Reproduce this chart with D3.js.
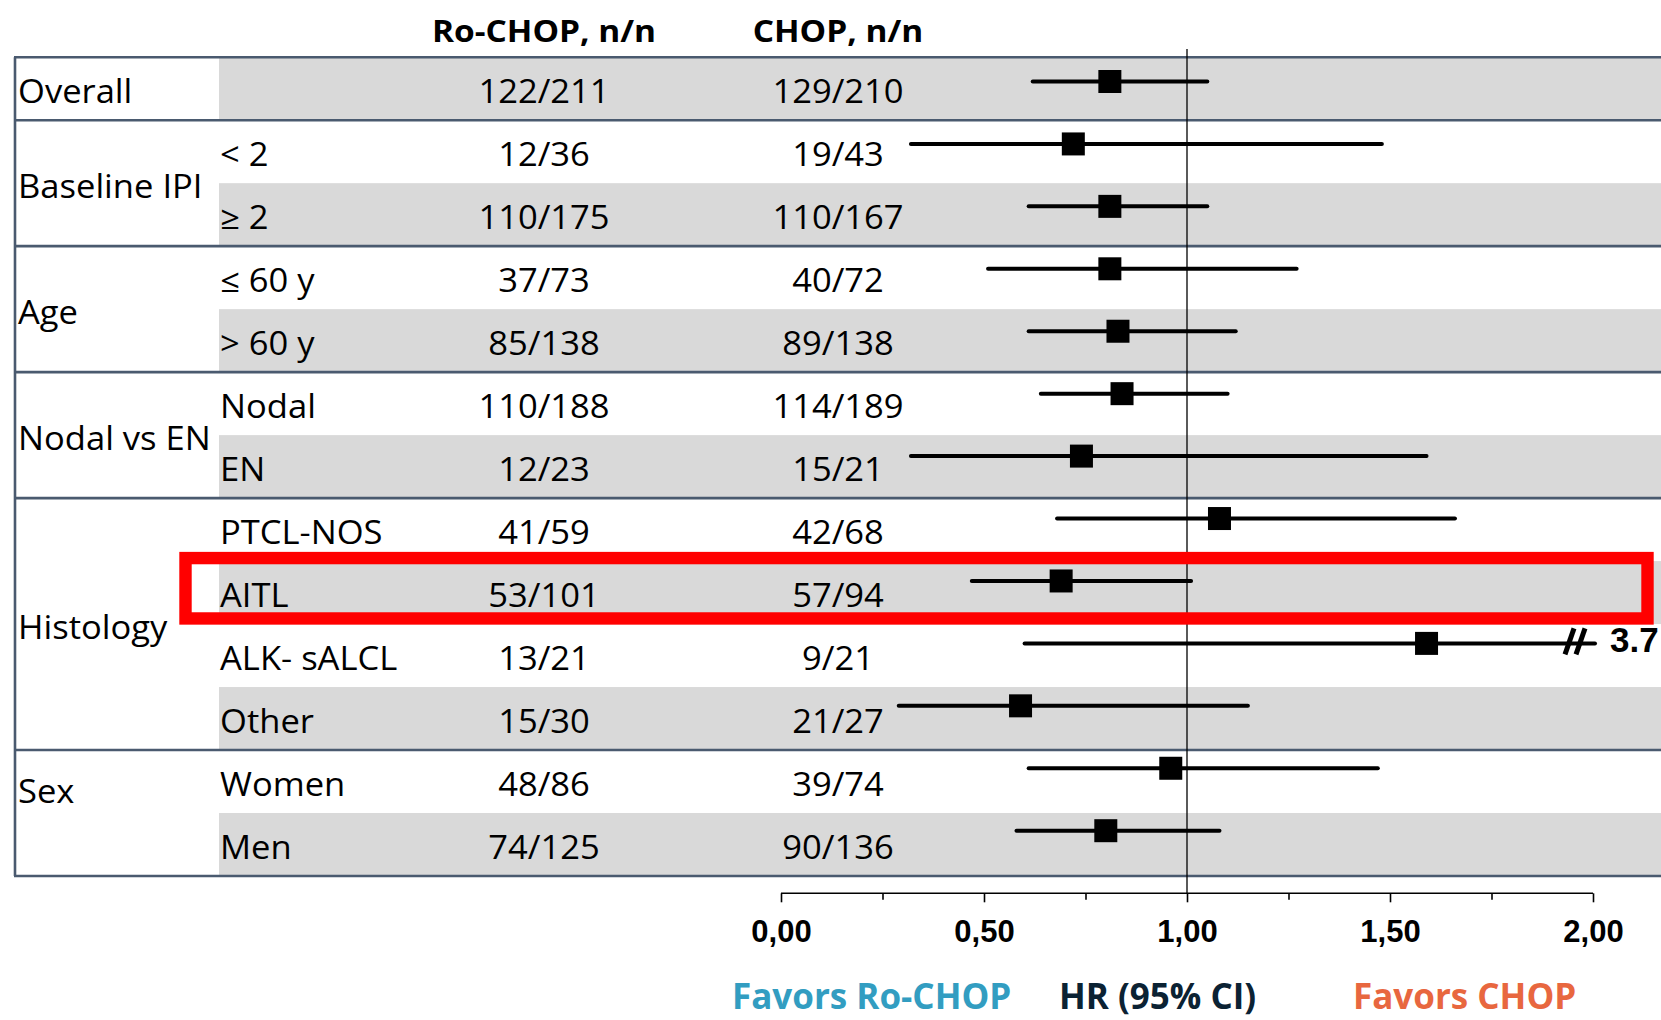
<!DOCTYPE html>
<html>
<head>
<meta charset="utf-8">
<script src="https://cdn.jsdelivr.net/npm/d3@7"></script>
<style>
  html, body { margin: 0; padding: 0; background: #fff; }
  svg { display: block; }
</style>
</head>
<body>
<svg id="chart" width="1661" height="1020"></svg>
<script>
// Subgroups, arm counts (events/patients) and hazard ratios with 95% CI
const groupOfRow = ["Overall", "Baseline IPI", "Baseline IPI", "Age", "Age",
  "Nodal vs EN", "Nodal vs EN", "Histology", "Histology", "Histology", "Histology", "Sex", "Sex"];
const rowLabels = ["", "< 2", "≥ 2", "≤ 60 y", "> 60 y", "Nodal", "EN",
  "PTCL-NOS", "AITL", "ALK- sALCL", "Other", "Women", "Men"];
const roChopCounts = ["122/211", "12/36", "110/175", "37/73", "85/138", "110/188", "12/23",
  "41/59", "53/101", "13/21", "15/30", "48/86", "74/125"];
const chopCounts = ["129/210", "19/43", "110/167", "40/72", "89/138", "114/189", "15/21",
  "42/68", "57/94", "9/21", "21/27", "39/74", "90/136"];
const hrPoint = [0.81, 0.72, 0.81, 0.81, 0.83, 0.84, 0.74, 1.08, 0.69, 1.59, 0.59, 0.96, 0.80];
const hrLower = [0.62, 0.32, 0.61, 0.51, 0.61, 0.64, 0.32, 0.68, 0.47, 0.60, 0.29, 0.61, 0.58];
const hrUpper = [1.05, 1.48, 1.05, 1.27, 1.12, 1.10, 1.59, 1.66, 1.01, 3.7, 1.15, 1.47, 1.08];
const axisTicks = [0, 0.5, 1, 1.5, 2];
const axisMinorTicks = [0.25, 0.75, 1.25, 1.75];
const highlightRow = "AITL";
const headers = ["Ro-CHOP, n/n", "CHOP, n/n"];
const footLabels = ["Favors Ro-CHOP", "HR (95% CI)", "Favors CHOP"];

const W = 1661, H = 1020;
const svg = d3.select("#chart");

const rowIdx = d3.range(rowLabels.length);
const yRow = d3.scaleBand().domain(rowIdx).range([57.2, 876]);
const rowH = yRow.bandwidth();
const yMark = d3.scalePoint().domain(rowIdx).range([81.5, 830.7]);
const x = d3.scaleLinear().domain([0, 2]).range([781, 1593]);
const colX = [544, 838];

const TABLE_SX = 1.08;
const bodyFont = "'Open Sans', 'Noto Sans', sans-serif";
const tickFont = "'Liberation Sans', Arial, sans-serif";

function stretchedText(parent, px, py, txt, anchor, size, weight, fill, sx) {
  const g = parent.append("g").attr("transform", `translate(${px},${py}) scale(${sx},1)`);
  g.append("text")
    .attr("text-anchor", anchor)
    .style("font-family", bodyFont)
    .style("font-size", size + "px")
    .style("font-weight", weight)
    .attr("fill", fill)
    .text(txt);
}

// alternating grey bands
svg.append("g").selectAll("rect")
  .data(rowIdx.filter(i => i % 2 === 0))
  .join("rect")
  .attr("x", 219).attr("width", W - 219)
  .attr("y", i => yRow(i)).attr("height", rowH)
  .attr("fill", "#d9d9d9");

// column headers
headers.forEach((h, k) => stretchedText(svg, colX[k], 42, h, "middle", 31, 700, "#000", TABLE_SX));

// row texts
const rowsG = svg.append("g");
rowIdx.forEach(i => {
  const base = yRow(i) + 46;
  if (rowLabels[i]) stretchedText(rowsG, 220, base, rowLabels[i], "start", 32, 400, "#000", TABLE_SX);
  stretchedText(rowsG, colX[0], base, roChopCounts[i], "middle", 32, 400, "#000", TABLE_SX);
  stretchedText(rowsG, colX[1], base, chopCounts[i], "middle", 32, 400, "#000", TABLE_SX);
});

// group labels and separators
const groups = Array.from(d3.group(rowIdx, i => groupOfRow[i]), ([name, idx]) => ({name, first: d3.min(idx), last: d3.max(idx)}));
const sepG = svg.append("g");
groups.forEach(g => {
  const top = yRow(g.first), bottom = yRow(g.last) + rowH;
  const mid = (top + bottom) / 2;
  const base = g.name === "Sex" ? mid - 10 : mid + 14.5;
  stretchedText(rowsG, 18, base, g.name, "start", 32, 400, "#000", TABLE_SX);
  sepG.append("line").attr("x1", 14).attr("x2", W).attr("y1", top).attr("y2", top);
});
sepG.append("line").attr("x1", 14).attr("x2", W).attr("y1", yRow.range()[1]).attr("y2", yRow.range()[1]);
sepG.append("line").attr("x1", 15).attr("x2", 15).attr("y1", yRow.range()[0]).attr("y2", yRow.range()[1]);
sepG.selectAll("line").attr("stroke", "#4a5a6f").attr("stroke-width", 2.6);

// reference line at HR = 1
const axisY = 893.3;
svg.append("line")
  .attr("x1", x(1)).attr("x2", x(1)).attr("y1", 49).attr("y2", axisY)
  .attr("stroke", "#000").attr("stroke-width", 1.3);

// confidence intervals and point estimates
const plotG = svg.append("g");
rowIdx.forEach(i => {
  const cy = yMark(i);
  const capped = hrUpper[i] > x.domain()[1];
  plotG.append("line")
    .attr("x1", x(hrLower[i])).attr("x2", x(Math.min(hrUpper[i], x.domain()[1])) + (capped ? 2 : 0))
    .attr("y1", cy).attr("y2", cy)
    .attr("stroke", "#000").attr("stroke-width", 4).attr("stroke-linecap", "round");
  plotG.append("rect")
    .attr("x", x(hrPoint[i]) - 11.5).attr("y", cy - 11.5)
    .attr("width", 23).attr("height", 23).attr("fill", "#000");
  if (capped) {
    const bx = x(x.domain()[1]);
    [-28, -17].forEach(off => {
      plotG.append("line")
        .attr("x1", bx + off).attr("y1", cy + 11)
        .attr("x2", bx + off + 9).attr("y2", cy - 15)
        .attr("stroke", "#000").attr("stroke-width", 5);
    });
    plotG.append("text")
      .attr("x", bx + 17).attr("y", cy + 9)
      .style("font-family", tickFont)
      .style("font-size", "35px").style("font-weight", 700)
      .text(d3.format(".1f")(hrUpper[i]));
  }
});

// highlight box around one subgroup
const hi = rowLabels.indexOf(highlightRow);
svg.append("rect")
  .attr("x", 185.5).attr("y", yRow(hi) - 3)
  .attr("width", 1647.5 - 185.5).attr("height", rowH - 2.6)
  .attr("fill", "none").attr("stroke", "#ff0000").attr("stroke-width", 12.4);

// x axis with comma decimal labels
const locale = d3.formatLocale({decimal: ",", thousands: ".", grouping: [3], currency: ["", ""]});
const fmt = locale.format(".2f");
const axisG = svg.append("g").attr("transform", `translate(0,${axisY})`);
axisG.append("g")
  .call(d3.axisBottom(x).tickValues(axisMinorTicks).tickSize(6.5).tickSizeOuter(0).tickFormat(""))
  .call(g => g.select(".domain").remove());
axisG.append("g")
  .call(d3.axisBottom(x).tickValues(axisTicks).tickSize(9).tickSizeOuter(0).tickFormat(fmt))
  .call(g => g.select(".domain").attr("d", `M${x(0)},0H${x(2)}`));
axisG.selectAll("line, path").attr("stroke", "#000").attr("stroke-width", 1.6);
axisG.selectAll("text")
  .attr("y", 48.4).attr("dy", 0)
  .style("font-family", tickFont)
  .style("font-size", "31px").style("font-weight", 700).attr("fill", "#000");

// direction labels under the axis
const footX = [732, 1059, 1353];
const footColors = ["#329dc1", "#0b2233", "#e8673f"];
footLabels.forEach((t, k) => {
  svg.append("text")
    .attr("x", footX[k]).attr("y", 1009)
    .style("font-family", bodyFont).style("font-size", "35px").style("font-weight", 700)
    .attr("fill", footColors[k]).text(t);
});
</script>
</body>
</html>
